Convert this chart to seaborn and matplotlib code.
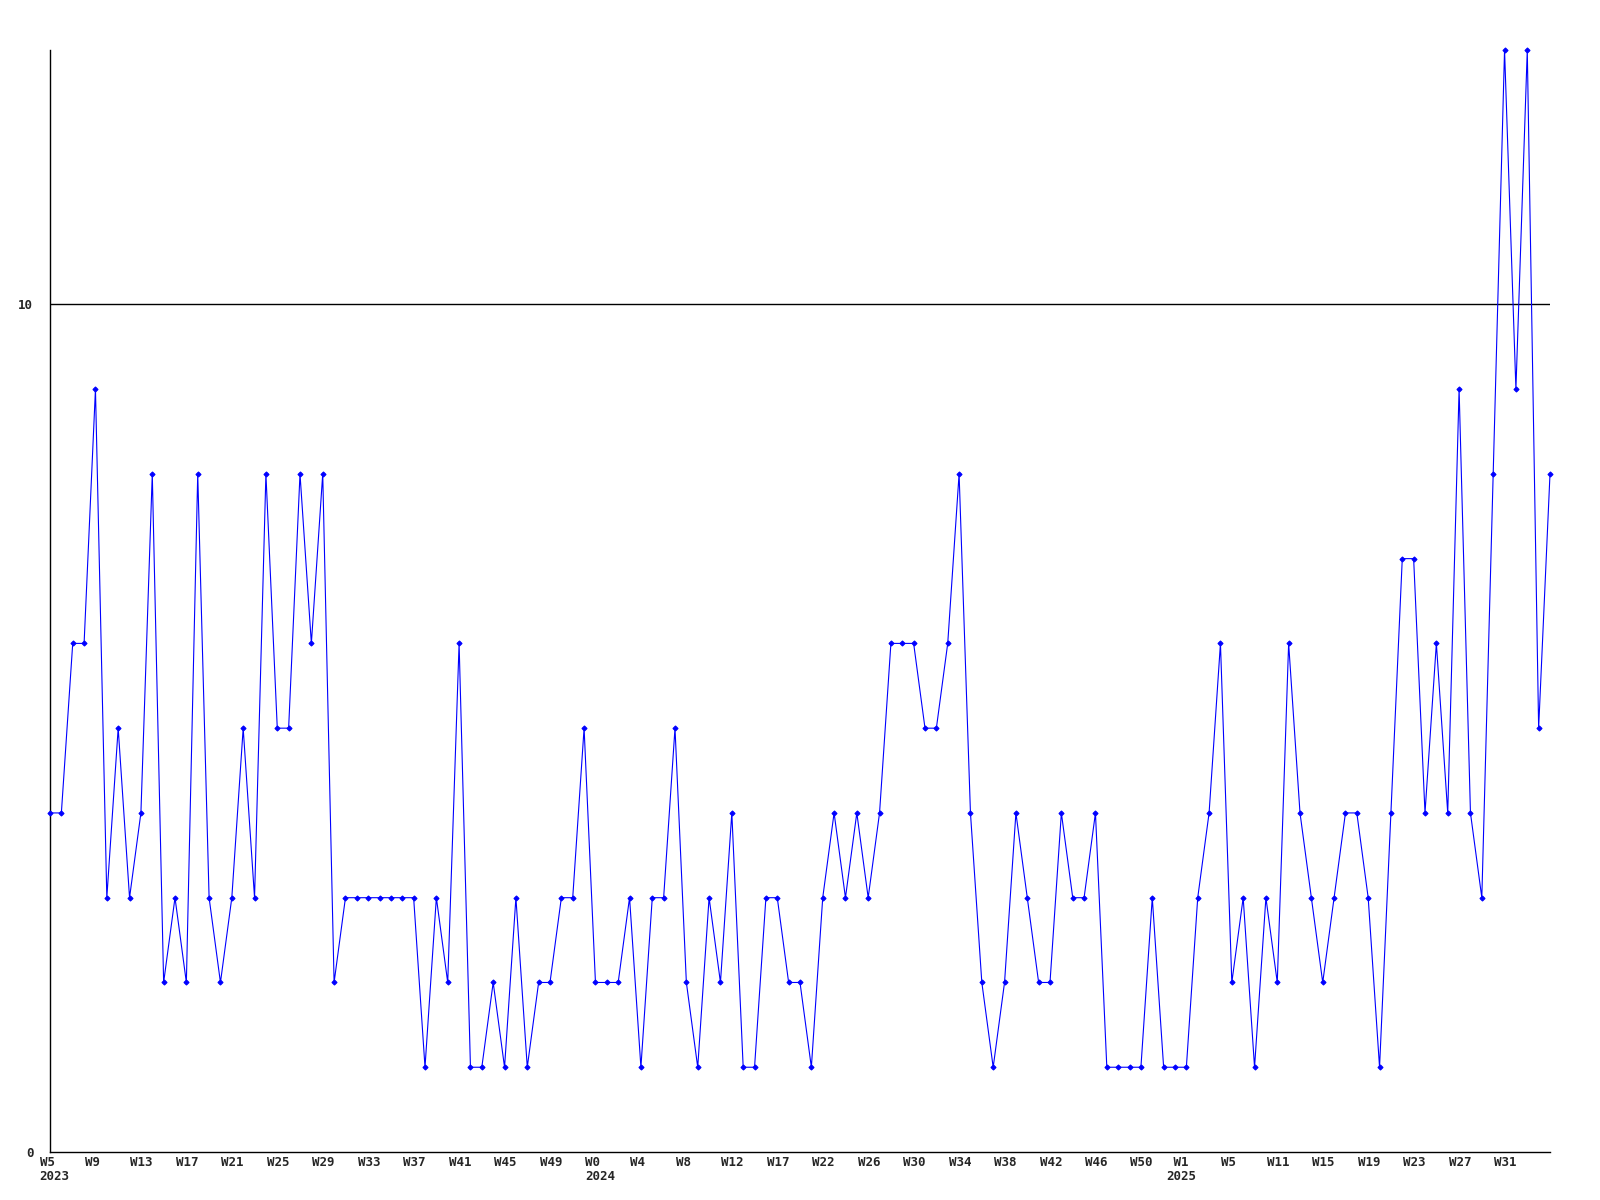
import matplotlib
matplotlib.use("Agg")
import matplotlib.pyplot as plt
import matplotlib.transforms as mtransforms
import seaborn as sns
import pandas as pd

# weekly counts, one point per week from 2023 W5
counts = [
    4, 4, 6, 6, 9, 3, 5, 3, 4, 8,
    2, 3, 2, 8, 3, 2, 3, 5, 3, 8,
    5, 5, 8, 6, 8, 2, 3, 3, 3, 3,
    3, 3, 3, 1, 3, 2, 6, 1, 1, 2,
    1, 3, 1, 2, 2, 3, 3, 5, 2, 2,
    2, 3, 1, 3, 3, 5, 2, 1, 3, 2,
    4, 1, 1, 3, 3, 2, 2, 1, 3, 4,
    3, 4, 3, 4, 6, 6, 6, 5, 5, 6,
    8, 4, 2, 1, 2, 4, 3, 2, 2, 4,
    3, 3, 4, 1, 1, 1, 1, 3, 1, 1,
    1, 3, 4, 6, 2, 3, 1, 3, 2, 6,
    4, 3, 2, 3, 4, 4, 3, 1, 4, 7,
    7, 4, 6, 4, 9, 4, 3, 8, 13, 9,
    13, 5, 8,
]

# a label every 4th week
week_labels = [
    "W5\n2023", "W9", "W13", "W17", "W21", "W25", "W29", "W33", "W37", "W41",
    "W45", "W49", "W0\n2024", "W4", "W8", "W12", "W17", "W22", "W26", "W30",
    "W34", "W38", "W42", "W46", "W50", " W1\n2025", "W5", "W11", "W15", "W19",
    "W23", "W27", "W31",
]
label_step = 4
y_ticks = [0, 10]

df = pd.DataFrame({"week": range(len(counts)), "count": counts})

sns.set_style("white")
plt.rcParams["font.family"] = ["DejaVu Sans Mono"]

fig = plt.figure(figsize=(16, 12), dpi=100)
ax = fig.add_axes([0.03125, 0.04, 0.9375, 0.9183])

sns.lineplot(data=df, x="week", y="count", ax=ax, color="#0000ff",
             linewidth=0.8, marker="D", markersize=2.6,
             markeredgecolor="#0000ff", markerfacecolor="#0000ff",
             clip_on=False, zorder=3)

ax.axhline(10, color="black", linewidth=1, zorder=2)

ax.set_xlim(0, len(counts) - 1)
ax.set_ylim(0, 13)
ax.set_xticks(range(0, len(week_labels) * label_step, label_step))
ax.set_xticklabels(week_labels, ha="left", va="top", linespacing=1.05)
ax.set_yticks(y_ticks)
ax.set_yticklabels([str(t) for t in y_ticks])
ax.tick_params(axis="x", length=0, pad=3, labelsize=9)
ax.tick_params(axis="y", length=0, pad=12, labelsize=9)

# tick labels start a little left of their week
for lab in ax.get_xticklabels():
    shift = -20 if "2025" in lab.get_text() else -10.5
    lab.set_transform(lab.get_transform() +
                      mtransforms.ScaledTranslation(shift / 100, 0, fig.dpi_scale_trans))
for lab in ax.get_xticklabels() + ax.get_yticklabels():
    lab.set_fontweight("bold")

ax.set_xlabel("")
ax.set_ylabel("")
sns.despine(ax=ax)
ax.spines["left"].set_color("black")
ax.spines["bottom"].set_color("black")
ax.spines["left"].set_linewidth(1)
ax.spines["bottom"].set_linewidth(1)

fig.savefig("out.png", dpi=100)
